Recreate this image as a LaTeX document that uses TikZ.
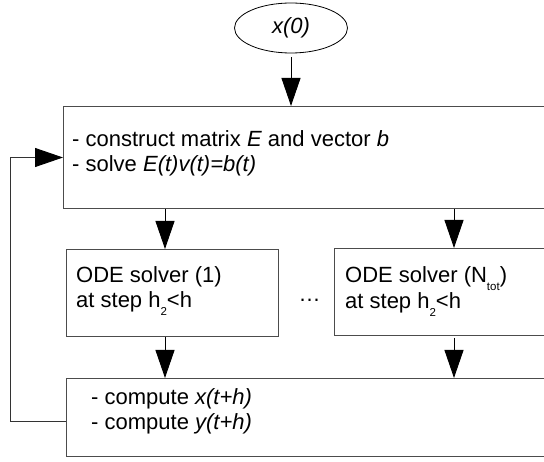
\documentclass[tikz,border=0pt]{standalone}
\usepackage{fontspec}
\setmainfont{Liberation Sans}
\usetikzlibrary{arrows.meta,shapes.geometric}
\newcommand{\lowsub}[1]{\raisebox{-8pt}{\fontsize{11.5}{12}\selectfont #1}}
\begin{document}
\begin{tikzpicture}[x=1pt,y=-1pt,
  box/.style={draw=black!70,line width=1pt,rectangle,inner sep=0pt,anchor=north west},
  txt/.style={inner sep=0pt,anchor=base west,font=\fontsize{22}{25}\selectfont},
  arr/.style={draw=black,line width=0.9pt,-{Triangle[length=28pt,width=19pt]}},
  loop/.style={draw=black!80,line width=0.9pt,-{Triangle[length=28pt,width=19pt,color=black]}}]
\useasboundingbox (0,0) rectangle (544,462);
\clip (0,0) rectangle (544,462);
% boxes
\node[box,minimum width=520pt,minimum height=102pt] (b1) at (63,106) {};
\node[box,minimum width=212pt,minimum height=87pt] (o1) at (66,249) {};
\node[box,minimum width=240pt,minimum height=87pt] (o2) at (334,248) {};
\node[box,minimum width=520pt,minimum height=78pt] (b3) at (66,378) {};
\node[draw=black,line width=0.8pt,ellipse,minimum width=113pt,minimum height=50pt,inner sep=0pt,
  font=\fontsize{22}{25}\selectfont\itshape] (e) at (291,28) {x(0)};
% texts
\node[txt] (t1) at (72,147) {\begin{tabular}[t]{@{}l@{}}- construct matrix \textit{E} and vector \textit{b}\\- solve \textit{E(t)v(t)=b(t)}\end{tabular}};
\node[txt] (t2) at (76,283) {\begin{tabular}[t]{@{}l@{}}ODE solver (1)\\at step h\lowsub{2}<h\end{tabular}};
\node[txt] (t3) at (345,283) {\begin{tabular}[t]{@{}l@{}}ODE solver (N\lowsub{tot})\\at step h\lowsub{2}<h\end{tabular}};
\node[txt] (t4) at (91,405) {\begin{tabular}[t]{@{}l@{}}- compute \textit{x(t+h)}\\- compute \textit{y(t+h)}\end{tabular}};
\node[inner sep=0pt,anchor=base,font=\fontsize{22}{25}\selectfont] (dots) at (309.5,302) {…};
% connectors
\coordinate (xa) at (165,0);
\coordinate (xb) at (454,0);
\draw[arr,shorten <=4pt] (e.south) -- (b1.north -| e.south);
\draw[arr] (b1.south -| xa) -- (o1.north -| xa);
\draw[arr] (b1.south -| xb) -- (o2.north -| xb);
\draw[arr] (o1.south -| xa) -- (b3.north -| xa);
\draw[arr,shorten <=2pt] (o2.south -| xb) -- (b3.north -| xb);
\draw[loop] ([yshift=-4pt]b3.west) -- ++(-56,0) |- (b1.west);
\end{tikzpicture}
\end{document}
